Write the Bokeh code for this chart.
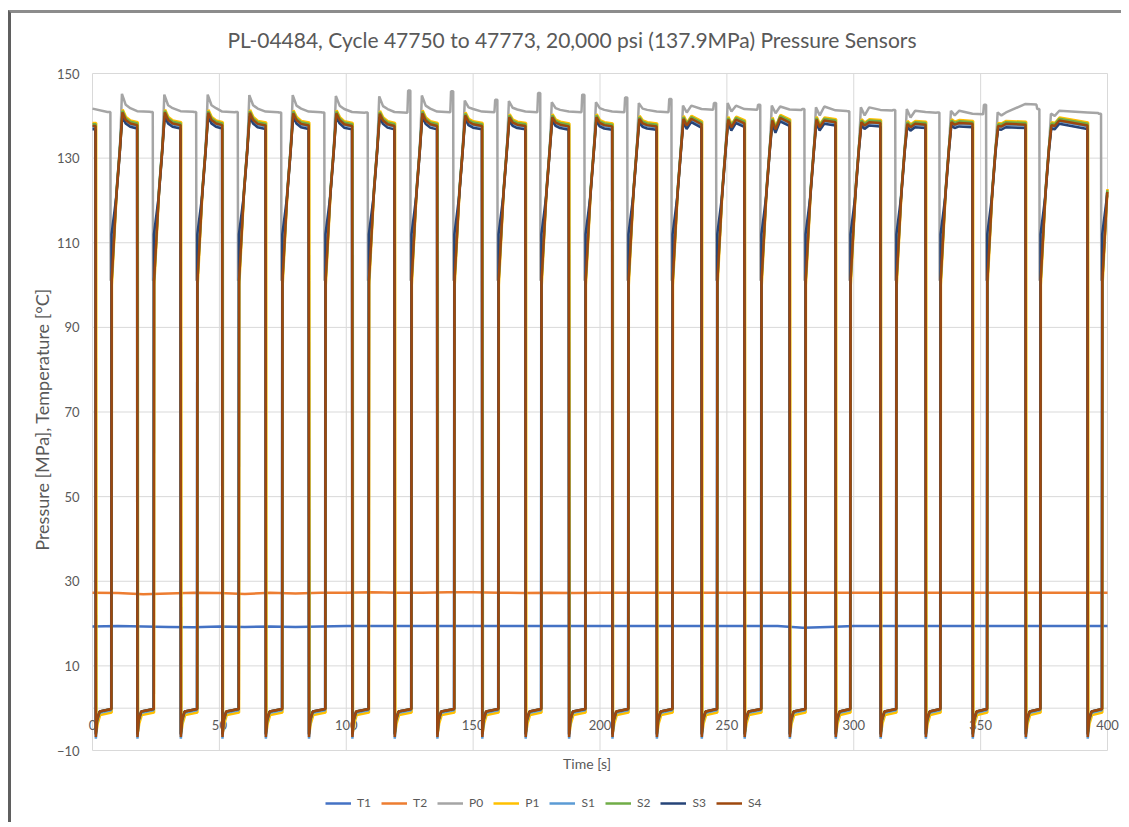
from bokeh.plotting import figure
from bokeh.models import Legend, LegendItem, Range1d, FixedTicker, Label
from bokeh.core.properties import value
from bokeh.embed import file_html
from bokeh.resources import INLINE

TITLE = "PL-04484, Cycle 47750 to 47773, 20,000 psi (137.9MPa) Pressure Sensors"
X_LABEL = "Time [s]"
Y_LABEL = "Pressure [MPa], Temperature [°C]"
x_ticks = [0, 50, 100, 150, 200, 250, 300, 350, 400]
y_ticks = [-10, 10, 30, 50, 70, 90, 110, 130, 150]

series_names = ["T1", "T2", "P0", "P1", "S1", "S2", "S3", "S4"]
series_colors = ["#4472C4", "#ED7D31", "#A5A5A5", "#FFC000", "#5B9BD5", "#70AD47", "#264478", "#9E480E"]

# temperatures, sampled every 10 s
temp_time = [0, 10, 20, 30, 40, 50, 60, 70, 80, 90, 100, 110, 120, 130, 140, 150, 160, 170, 180, 190, 200,
             210, 220, 230, 240, 250, 260, 270, 280, 290, 300, 310, 320, 330, 340, 350, 360, 370, 380, 390, 400]
T1_vals = [19.3, 19.4, 19.3, 19.2, 19.1, 19.3, 19.2, 19.3, 19.2, 19.3, 19.4, 19.4, 19.4, 19.4, 19.4, 19.4, 19.4,
           19.4, 19.4, 19.4, 19.4, 19.4, 19.4, 19.4, 19.4, 19.4, 19.4, 19.4, 19.0, 19.2, 19.4, 19.4, 19.4, 19.4,
           19.4, 19.4, 19.4, 19.4, 19.4, 19.4, 19.4]
T2_vals = [27.3, 27.2, 26.9, 27.1, 27.3, 27.2, 27.0, 27.3, 27.1, 27.3, 27.3, 27.4, 27.3, 27.3, 27.4, 27.4, 27.3,
           27.2, 27.3, 27.2, 27.3, 27.3, 27.3, 27.3, 27.3, 27.3, 27.3, 27.3, 27.3, 27.3, 27.3, 27.3, 27.3, 27.3,
           27.3, 27.3, 27.3, 27.3, 27.3, 27.3, 27.3]

# pressure cycles: time of each fall (vent) and each rise (re-pressurisation), s
drop_t = [1.2, 17.6, 34.7, 51.1, 68.2, 85.2, 102.3, 119.0, 135.8, 153.5, 170.6, 187.7, 204.8, 222.3, 240.0,
          256.9, 274.7, 292.8, 310.5, 328.3, 346.8, 367.7, 392.1]
rise_t = [7.5, 24.2, 41.3, 57.7, 74.8, 91.8, 108.9, 125.7, 142.6, 160.0, 176.9, 194.3, 211.2, 228.6, 246.2,
          263.6, 281.0, 298.7, 316.8, 334.2, 352.6, 373.6, 397.9]

# sensor (S4) levels per cycle
s_start = 137.6
s_peak = [140.8, 140.8, 140.7, 140.7, 140.6, 140.6, 140.5, 140.6, 140.1, 139.7, 139.7, 139.7, 139.3, 139.3,
          139.1, 138.9, 139.1, 138.5, 138.1, 138.5, 137.6, 137.8, 139.0]
s_dip = [139.0, 139.0, 139.0, 139.0, 139.0, 139.0, 138.9, 138.9, 138.6, 138.4, 138.4, 138.3, 138.2, 137.7,
         137.3, 136.8, 137.3, 137.7, 137.3, 137.9, 137.5, 137.6, 138.0]
s_hump = [138.2, 138.2, 138.2, 138.1, 138.1, 138.0, 138.0, 138.0, 138.0, 137.9, 137.9, 137.8, 137.8, 139.3,
          139.1, 139.5, 138.9, 138.5, 138.1, 138.3, 138.1, 138.9, 138.0]
s_end = [137.8, 137.8, 137.8, 137.7, 137.7, 137.6, 137.6, 137.6, 137.6, 137.6, 137.5, 137.5, 137.5, 138.0,
         138.2, 138.4, 138.5, 138.3, 137.9, 138.1, 137.9, 137.7]
s_knee = 101.0
s_ramp = [122.0, 132.0]

# per-sensor deviations from S4
s_names = ["P1", "S1", "S2", "S3", "S4"]
top_off = [0.7, -0.2, 0.4, -0.8, 0.0]
low_off = [-0.8, -0.3, 0.0, 0.0, 0.0]
spike_low = [-5.5, -7.2, -6.0, -6.2, -6.8]
knee_val = [100.0, 101.0, 101.0, 112.0, 101.0]
drop_lag = [0.25, 0.0, 0.05, -0.05, 0.0]
rise_lag = [0.1, -0.1, 0.0, -0.05, 0.0]

# P0 levels per cycle
p0_start = [141.7, 140.9]
p0_peak = [145.2, 145.0, 145.0, 144.9, 144.9, 144.7, 144.6, 144.8, 143.6, 143.5, 143.2, 143.2, 143.0, 142.4,
           143.0, 142.4, 142.0, 142.0, 141.6, 141.2, 140.8, 140.5, 141.0]
p0_dip = [142.6, 142.5, 142.5, 142.5, 142.4, 142.4, 142.3, 142.4, 142.0, 141.9, 141.8, 141.8, 141.7, 140.8,
          141.0, 140.6, 140.1, 140.1, 139.6, 140.1, 140.1, 140.0, 140.0]
p0_hump = [141.8, 141.8, 141.8, 141.7, 141.7, 141.6, 141.6, 141.7, 141.6, 141.5, 141.4, 141.4, 141.4, 142.4,
           142.4, 142.2, 142.2, 142.0, 141.2, 141.2, 140.8, 141.2, 141.0]
p0_mid = [141.1, 141.1, 141.0, 141.0, 141.0, 140.9, 140.9, 141.0, 141.0, 141.0, 141.0, 141.0, 141.0, 141.6,
          141.6, 141.5, 141.3, 141.4, 140.9, 140.5, 142.8, 140.8]
p0_end = [140.9, 140.9, 140.9, 140.8, 140.8, 140.8, 146.0, 145.8, 143.8, 145.4, 145.0, 144.3, 144.0, 143.0,
          142.6, 141.6, 141.1, 141.4, 140.8, 142.6, 141.6, 140.5]

T_END = x_ticks[-1]


def keep_in_range(xs, ys):
    pts = [(x, y) for x, y in zip(xs, ys) if x <= T_END]
    return [a for a, _ in pts], [b for _, b in pts]


def sensor_trace(i):
    xs = [0.0]
    ys = [s_start + top_off[i]]
    prev = s_start
    for k in range(len(rise_t)):
        d = drop_t[k] + drop_lag[i]
        r = rise_t[k] + rise_lag[i]
        xs += [d, d + 0.12, d + 0.6, d + 1.6, r - 0.05, r + 0.05, r + 2.0, r + 3.3, r + 4.3, r + 5.6, r + 7.4]
        ys += [prev + top_off[i], spike_low[i], -2.8 + low_off[i], -0.8 + low_off[i], -0.2 + low_off[i],
               knee_val[i], s_ramp[0] + top_off[i], s_ramp[1] + top_off[i], s_peak[k] + top_off[i],
               s_dip[k] + top_off[i], s_hump[k] + top_off[i]]
        if k < len(s_end):
            prev = s_end[k]
    return keep_in_range(xs, ys)


def p0_trace():
    xs = [0.0, rise_t[0] - 1.6, rise_t[0] - 0.45]
    ys = [p0_start[0], p0_start[1], p0_start[1]]
    n = len(rise_t)
    for k in range(n):
        r = rise_t[k]
        xs += [r - 0.35, r + 2.0, r + 3.3, r + 4.1, r + 5.6, r + 7.4]
        ys += [s_knee, s_ramp[0], s_ramp[1], p0_peak[k], p0_dip[k], p0_hump[k]]
        if k < n - 1:
            d = drop_t[k + 1]
            r2 = rise_t[k + 1]
            xs += [d, r2 - 1.6, r2 - 1.3, r2 - 0.45]
            ys += [p0_mid[k], p0_mid[k] - 0.15, p0_end[k], p0_end[k]]
    return keep_in_range(xs, ys)


FONT = "Lato"
GREY = "#595959"
GRID = "#d9d9d9"

# data area: time 0..400 spans 1015 px, pressure -10..150 spans 677 px.
# The frame is enlarged around it so that the title, axis texts and legend, drawn inside it, are not clipped.
PX_X = 1015 / 400.0
PX_Y = 677 / 160.0
x_lo = 0 - 8 / PX_X
x_hi = 400 + 15 / PX_X
y_lo = -10 - 73 / PX_Y
y_hi = 150 + 58 / PX_Y

p = figure(width=1113, height=812, x_range=Range1d(x_lo, x_hi), y_range=Range1d(y_lo, y_hi),
           output_backend="svg", toolbar_location=None, x_axis_location=None,
           min_border_left=73, min_border_right=2, min_border_top=2, min_border_bottom=2)
p.styles = {"margin-left": "8px", "margin-top": "10px",
            "border-left": "3px solid #5f5f5f", "border-top": "3px solid #8c8c8c"}
p.outline_line_color = None
p.background_fill_color = "white"
p.border_fill_color = "white"
p.xgrid.visible = False
p.ygrid.visible = False

p.yaxis.ticker = FixedTicker(ticks=y_ticks)
p.yaxis.axis_line_color = None
p.yaxis.major_tick_line_color = None
p.yaxis.minor_tick_line_color = None
p.yaxis.major_tick_out = 0
p.yaxis.minor_tick_out = 0
p.yaxis.major_label_standoff = 5
p.yaxis.major_label_text_font = FONT
p.yaxis.major_label_text_font_size = "13px"
p.yaxis.major_label_text_color = GREY
p.yaxis.axis_label = Y_LABEL
p.yaxis.axis_label_text_font = FONT
p.yaxis.axis_label_text_font_size = "18px"
p.yaxis.axis_label_text_font_style = "normal"
p.yaxis.axis_label_text_color = GREY
p.yaxis.axis_label_standoff = 1

# gridlines limited to the data area, and the zero line of the time axis
p.segment(x0=x_ticks, y0=[y_ticks[0]] * len(x_ticks), x1=x_ticks, y1=[y_ticks[-1]] * len(x_ticks),
          line_color=GRID, line_width=1)
p.segment(x0=[x_ticks[0]] * len(y_ticks), y0=y_ticks, x1=[x_ticks[-1]] * len(y_ticks), y1=y_ticks,
          line_color=GRID, line_width=1)
p.segment(x0=[x_ticks[0]], y0=[0], x1=[x_ticks[-1]], y1=[0], line_color=GRID, line_width=1)

# time tick labels sit just under the zero line
p.text(x=x_ticks, y=[0] * len(x_ticks), text=[str(t) for t in x_ticks], y_offset=12,
       text_align="center", text_baseline="top", text_font=value(FONT), text_font_size="13px",
       text_color=GREY)

p.add_layout(Label(x=200, y=-10, x_offset=-13, y_offset=-13, text=X_LABEL, text_align="center",
                   text_baseline="middle", text_font=FONT, text_font_size="14px", text_color=GREY))
p.add_layout(Label(x=200, y=150, x_offset=-28, y_offset=34, text=TITLE, text_align="center",
                   text_baseline="middle", text_font=FONT, text_font_size="21px", text_color=GREY))

renderers = {}
renderers["T1"] = p.line(temp_time, T1_vals, color=series_colors[0], line_width=2.5)
renderers["T2"] = p.line(temp_time, T2_vals, color=series_colors[1], line_width=2.5)
gx, gy = p0_trace()
renderers["P0"] = p.line(gx, gy, color=series_colors[2], line_width=2.5)
for i, name in enumerate(s_names):
    sx, sy = sensor_trace(i)
    renderers[name] = p.line(sx, sy, color=series_colors[series_names.index(name)], line_width=2.5)

legend = Legend(items=[LegendItem(label=n, renderers=[renderers[n]]) for n in series_names],
                orientation="horizontal", location=(241, 13),
                glyph_width=26, glyph_height=14, label_width=13, label_height=14,
                label_standoff=6, spacing=10,
                padding=0, margin=0, border_line_color=None, background_fill_alpha=0,
                label_text_font=FONT, label_text_font_size="12px", label_text_color=GREY)
p.add_layout(legend)

open("out.html", "w").write(file_html(p, INLINE))
